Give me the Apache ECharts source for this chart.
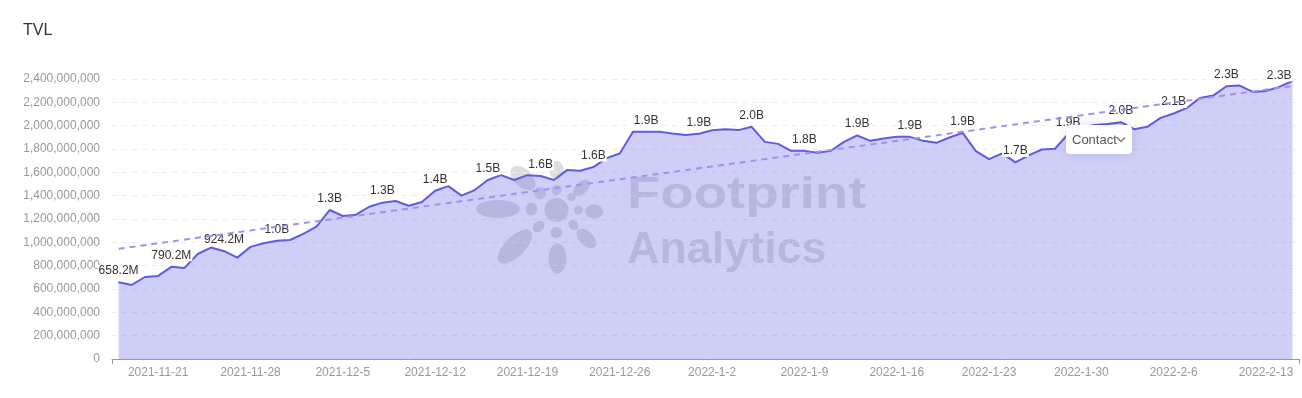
<!DOCTYPE html>
<html>
<head>
<meta charset="utf-8">
<script src="https://cdn.jsdelivr.net/npm/echarts@6/dist/echarts.min.js"></script>
<style>
    html, body { margin: 0; padding: 0; background: #fff; }
    #main { width: 1302px; height: 398px; }
</style>
</head>
<body>
<div id="main"></div>
<script>
// dates, one per day
var dates = [
    "2021-11-18","2021-11-19","2021-11-20","2021-11-21","2021-11-22","2021-11-23","2021-11-24","2021-11-25","2021-11-26","2021-11-27",
    "2021-11-28","2021-11-29","2021-11-30","2021-12-1","2021-12-2","2021-12-3","2021-12-4","2021-12-5","2021-12-6","2021-12-7",
    "2021-12-8","2021-12-9","2021-12-10","2021-12-11","2021-12-12","2021-12-13","2021-12-14","2021-12-15","2021-12-16","2021-12-17",
    "2021-12-18","2021-12-19","2021-12-20","2021-12-21","2021-12-22","2021-12-23","2021-12-24","2021-12-25","2021-12-26","2021-12-27",
    "2021-12-28","2021-12-29","2021-12-30","2021-12-31","2022-1-1","2022-1-2","2022-1-3","2022-1-4","2022-1-5","2022-1-6",
    "2022-1-7","2022-1-8","2022-1-9","2022-1-10","2022-1-11","2022-1-12","2022-1-13","2022-1-14","2022-1-15","2022-1-16",
    "2022-1-17","2022-1-18","2022-1-19","2022-1-20","2022-1-21","2022-1-22","2022-1-23","2022-1-24","2022-1-25","2022-1-26",
    "2022-1-27","2022-1-28","2022-1-29","2022-1-30","2022-1-31","2022-2-1","2022-2-2","2022-2-3","2022-2-4","2022-2-5",
    "2022-2-6","2022-2-7","2022-2-8","2022-2-9","2022-2-10","2022-2-11","2022-2-12","2022-2-13","2022-2-14","2022-2-15"
];
// TVL in USD
var tvl = [
    658200000, 635000000, 703000000, 712000000, 790200000, 781000000, 900000000, 955000000, 924200000, 869000000,
    961000000, 992000000, 1014000000, 1020000000, 1072000000, 1134000000, 1277000000, 1226000000, 1237000000, 1305000000,
    1340000000, 1354000000, 1314000000, 1346000000, 1442000000, 1482000000, 1400000000, 1448000000, 1534000000, 1576000000,
    1534000000, 1576000000, 1568000000, 1534000000, 1619000000, 1613000000, 1645000000, 1722000000, 1762000000, 1947000000,
    1947000000, 1947000000, 1933000000, 1921000000, 1930000000, 1961000000, 1970000000, 1962000000, 1990000000, 1861000000,
    1844000000, 1784000000, 1784000000, 1767000000, 1784000000, 1861000000, 1916000000, 1870000000, 1890000000, 1904000000,
    1904000000, 1870000000, 1853000000, 1899000000, 1938000000, 1782000000, 1713000000, 1762000000, 1685000000, 1745000000,
    1796000000, 1802000000, 1930000000, 1985000000, 2005000000, 2015000000, 2030000000, 1970000000, 1990000000, 2067000000,
    2104000000, 2152000000, 2238000000, 2258000000, 2338000000, 2344000000, 2289000000, 2298000000, 2332000000, 2383000000
];
// trend line end points (first and last day)
var trendIndex = [0, 89];
var trendValues = [945000000, 2340000000];

var yTicks = { min: 0, max: 2400000000, interval: 200000000 };

function shortNum(v) {
    if (v >= 1e9) return (v / 1e9).toFixed(1) + "B";
    return (v / 1e6).toFixed(1) + "M";
}

var lineColor = "#5f5ce0";
var markColor = "rgba(120,120,120,0.25)";
var font = "Arial, Liberation Sans, sans-serif";

// every 4th point carries a value label
var tvlData = tvl.map(function(v, i) {
    if (i % 4 == 0) {
        return { value: v, label: { show: true } };
    }
    return v;
});

var trendData = trendIndex.map(function(idx, i) { return [idx, trendValues[i]]; });

// watermark logo pieces
function blob(x, y, rx, ry, rot) {
    return {
        type: "ellipse", x: x, y: y, rotation: rot || 0, z: 0,
        shape: { cx: 0, cy: 0, rx: rx, ry: ry },
        style: { fill: markColor }, silent: true
    };
}

var chart = echarts.init(document.getElementById("main"));
var option = {
    animation: false,
    title: {
        text: "TVL",
        left: 18,
        top: 18,
        textStyle: { fontSize: 16, fontWeight: "normal", color: "#333", fontFamily: font }
    },
    grid: { left: 112, right: 3, top: 79, bottom: 39 },
    xAxis: {
        type: "category",
        data: dates,
        boundaryGap: true,
        axisLine: { lineStyle: { color: "#999" } },
        axisTick: {
            show: true,
            interval: function(i) { return i == 0; },
            lineStyle: { color: "#999" }
        },
        axisLabel: {
            interval: function(i) { return i % 7 == 3; },
            color: "#999",
            fontSize: 12,
            margin: 8,
            fontFamily: font
        }
    },
    yAxis: {
        type: "value",
        min: yTicks.min,
        max: yTicks.max,
        interval: yTicks.interval,
        axisLine: { show: false },
        axisTick: { show: false },
        axisLabel: {
            color: "#999",
            fontSize: 12,
            margin: 12,
            fontFamily: font,
            formatter: function(v) { return v.toLocaleString("en-US"); }
        },
        splitLine: { lineStyle: { color: "#eee", type: [5, 5] } }
    },
    graphic: [
        blob(498, 209, 22, 9),
        blob(531.5, 209, 6, 6.5),
        blob(523, 178, 15, 9, -Math.PI / 4),
        blob(540, 193, 6, 6),
        blob(556.5, 170, 7, 9),
        blob(556.5, 190, 5, 5),
        blob(581.5, 188, 10, 6, Math.PI / 4),
        blob(571.5, 197, 4.5, 4),
        blob(556.5, 210, 12, 12),
        blob(578.5, 210, 4.5, 4.5),
        blob(594, 211.5, 9, 7),
        blob(573.5, 225, 5.5, 4.5, -Math.PI / 4),
        blob(586.5, 238.5, 12, 7, -Math.PI / 4),
        blob(538.5, 226.5, 6.5, 5, Math.PI / 4),
        blob(556.5, 232.5, 6, 5.5),
        blob(557.5, 258.5, 9, 15),
        blob(515, 246.5, 22, 10, Math.PI / 4),
        {
            type: "text", x: 627, y: 174, scaleX: 1.24, z: 0, silent: true,
            style: { text: "Footprint", font: "bold 44px " + font, fill: markColor }
        },
        {
            type: "text", x: 627, y: 229, scaleX: 1.02, z: 0, silent: true,
            style: { text: "Analytics", font: "bold 44px " + font, fill: markColor }
        },
        {
            type: "rect", x: 1066, y: 125, z: 100, silent: true,
            shape: { width: 66, height: 29, r: 4 },
            style: { fill: "#fff", shadowBlur: 12, shadowColor: "rgba(0,0,0,0.12)" }
        },
        {
            type: "text", x: 1072, y: 140, z: 101, silent: true,
            style: { text: "Contact", font: "13px " + font, fill: "#555", verticalAlign: "middle" }
        },
        {
            type: "polyline", z: 101, silent: true,
            shape: { points: [[1117, 137.5], [1121, 141.5], [1125, 137.5]] },
            style: { stroke: "#777", lineWidth: 1.3, fill: null }
        }
    ],
    series: [
        {
            name: "TVL",
            type: "line",
            z: 2,
            data: tvlData,
            symbol: "circle",
            symbolSize: 1,
            showSymbol: true,
            lineStyle: { color: lineColor, width: 2 },
            itemStyle: { color: lineColor },
            areaStyle: { color: lineColor, opacity: 0.3 },
            label: {
                show: false,
                position: "top",
                distance: 5,
                color: "#333",
                fontSize: 12,
                fontFamily: font,
                backgroundColor: "#fff",
                padding: [0, 1],
                formatter: function(p) { return shortNum(p.value); }
            }
        },
        {
            name: "trend",
            type: "line",
            z: 3,
            data: trendData,
            showSymbol: false,
            silent: true,
            lineStyle: { color: "#9c94ec", width: 2, type: [6, 5] }
        }
    ]
};
chart.setOption(option, true);
</script>
</body>
</html>
